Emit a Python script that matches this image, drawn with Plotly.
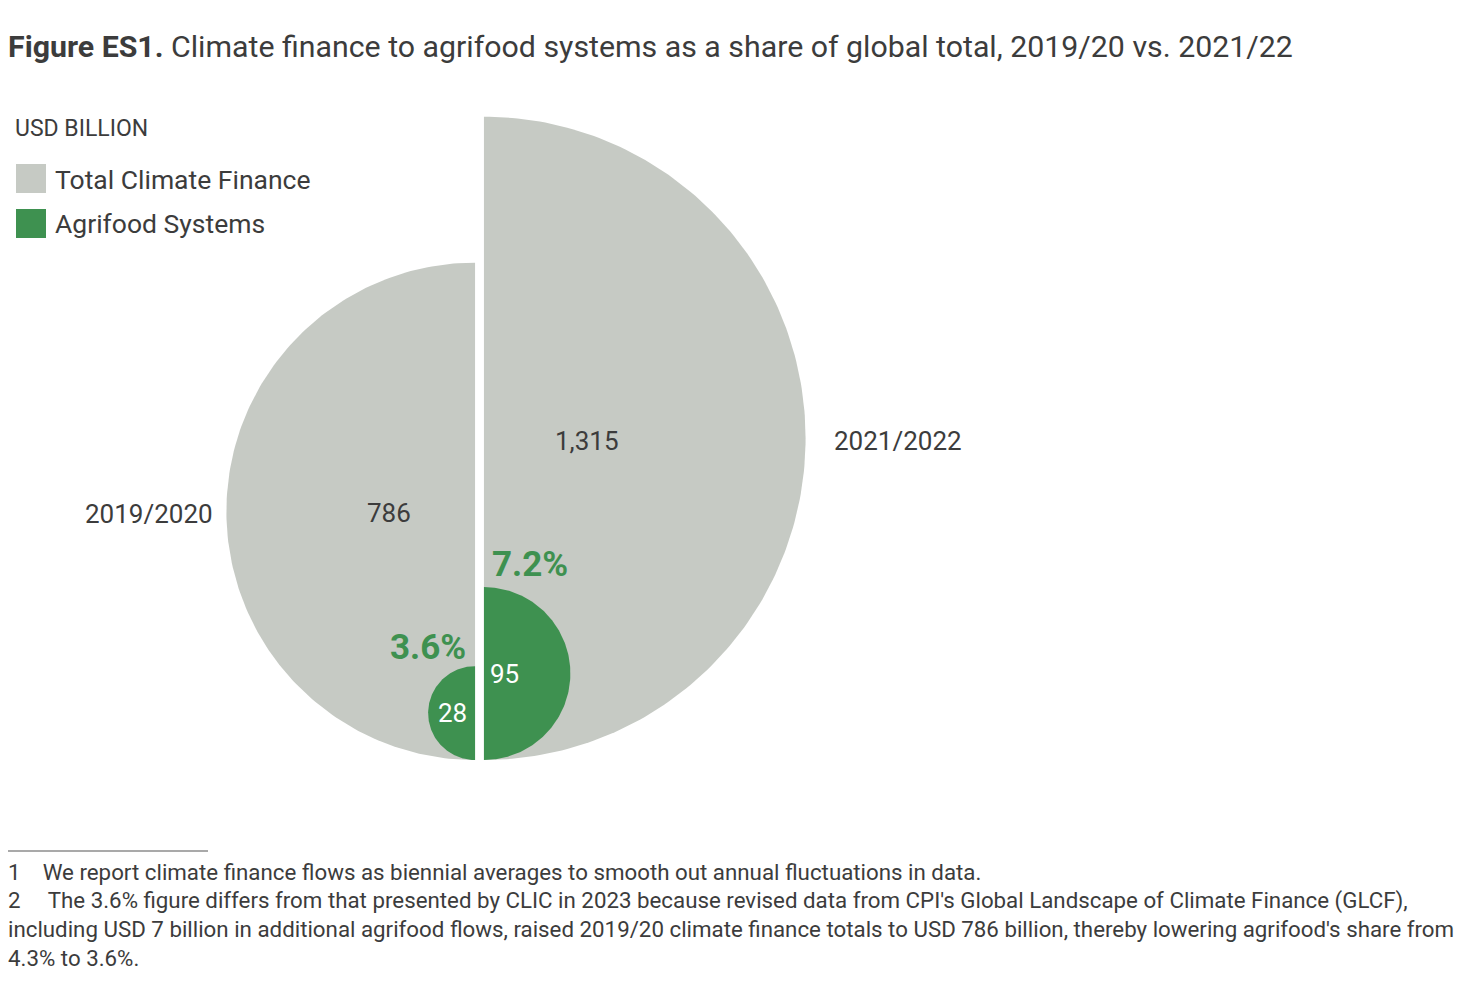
import numpy as np
import plotly.graph_objects as go

# Werte in Mrd. USD
periods = ["2019/2020", "2021/2022"]
total_finance = [786, 1315]
agrifood = [28, 95]
shares = ["3.6%", "7.2%"]
total_labels = ["786", "1,315"]
agri_labels = ["28", "95"]

GREY = "#C6CAC4"
GREEN = "#3E9150"
TEXT = "#3C3C3C"
FONT = "Roboto"

W, H = 1468, 1000
OFF = 8           # Seitenrand des Browsers
SCALE = 8.87      # Pixel pro Einheit (Radius = sqrt(Wert))
X0, Y0 = 479.5 - OFF, 760 - OFF  # gemeinsamer Fusspunkt in Pixeln
GAP = 0.5


def half_disc(value, side):
    # Halbkreis mit Flaeche ~ Wert, unten am Nullpunkt
    r = np.sqrt(value)
    if side == "left":
        t = np.linspace(np.pi / 2, 3 * np.pi / 2, 181)
        cx = -GAP
    else:
        t = np.linspace(-np.pi / 2, np.pi / 2, 181)
        cx = GAP
    xs = cx + r * np.cos(t)
    ys = r + r * np.sin(t)
    return xs, ys


def paper(px, py):
    return (px - OFF) / W, 1 - (py - OFF) / H


fig = go.Figure()
sides = ["left", "right"]
for i, side in enumerate(sides):
    xs, ys = half_disc(total_finance[i], side)
    fig.add_trace(go.Scatter(x=xs, y=ys, fill="toself", fillcolor=GREY, mode="lines",
                             line=dict(width=0), hoverinfo="skip", showlegend=False))
for i, side in enumerate(sides):
    xs, ys = half_disc(agrifood[i], side)
    fig.add_trace(go.Scatter(x=xs, y=ys, fill="toself", fillcolor=GREEN, mode="lines",
                             line=dict(width=0), hoverinfo="skip", showlegend=False))

ann = []


def add_text(txt, px, py, size, color=TEXT, xanchor="left", bold=False):
    # Annotationen haben etwas Innenabstand, daher leicht verschieben
    if xanchor == "left":
        px -= 2
    elif xanchor == "right":
        px += 2
    x, y = paper(px, py)
    if bold:
        txt = "<b>" + txt + "</b>"
    ann.append(dict(text=txt, x=x, y=y, xref="paper", yref="paper", xanchor=xanchor,
                    yanchor="middle", showarrow=False,
                    font=dict(family=FONT, size=size, color=color)))


# Titel
add_text("<b>Figure ES1.</b> Climate finance to agrifood systems as a share of global total, 2019/20 vs. 2021/22",
         8, 46, 30.3)

# Legende
add_text("USD BILLION", 15, 128, 23)
add_text("Total Climate Finance", 55, 180, 26.5)
add_text("Agrifood Systems", 55, 224, 26.5)

# Beschriftungen
add_text(periods[0], 213, 514, 26, xanchor="right")
add_text(periods[1], 834, 441, 26)
add_text(total_labels[0], 389, 513, 26, xanchor="center")
add_text(total_labels[1], 587, 441, 26, xanchor="center")
add_text(agri_labels[0], 452, 713, 26, color="white", xanchor="center")
add_text(agri_labels[1], 505, 674, 26, color="white", xanchor="center")
add_text(shares[0], 428, 647, 35, color=GREEN, xanchor="center", bold=True)
add_text(shares[1], 530, 564, 35, color=GREEN, xanchor="center", bold=True)

# Fussnoten
notes = [
    "1    We report climate finance flows as biennial averages to smooth out annual fluctuations in data.",
    "2     The 3.6% figure differs from that presented by CLIC in 2023 because revised data from CPI's Global Landscape of Climate Finance (GLCF),",
    "including USD 7 billion in additional agrifood flows, raised 2019/20 climate finance totals to USD 786 billion, thereby lowering agrifood's share from",
    "4.3% to 3.6%.",
]
for k, line in enumerate(notes):
    add_text(line, 8, 872 + k * 28.5, 22.3)

shapes = []
for k, col in enumerate([GREY, GREEN]):
    x0, y1 = paper(16, 164 + k * 45)
    x1, y0 = paper(46, 193 + k * 45)
    shapes.append(dict(type="rect", xref="paper", yref="paper", x0=x0, x1=x1, y0=y0, y1=y1,
                       fillcolor=col, line=dict(width=0)))
lx0, ly = paper(8, 851)
lx1, _ = paper(208, 851)
shapes.append(dict(type="line", xref="paper", yref="paper", x0=lx0, x1=lx1, y0=ly, y1=ly,
                   line=dict(color="#555555", width=1.2)))

fig.update_layout(
    width=W, height=H,
    margin=dict(l=0, r=0, t=0, b=0),
    paper_bgcolor="white", plot_bgcolor="white",
    xaxis=dict(range=[-X0 / SCALE, (W - X0) / SCALE], visible=False, fixedrange=True),
    yaxis=dict(range=[-(H - Y0) / SCALE, Y0 / SCALE], visible=False, fixedrange=True),
    annotations=ann,
    shapes=shapes,
    showlegend=False,
)

fig.write_html("out.html")
